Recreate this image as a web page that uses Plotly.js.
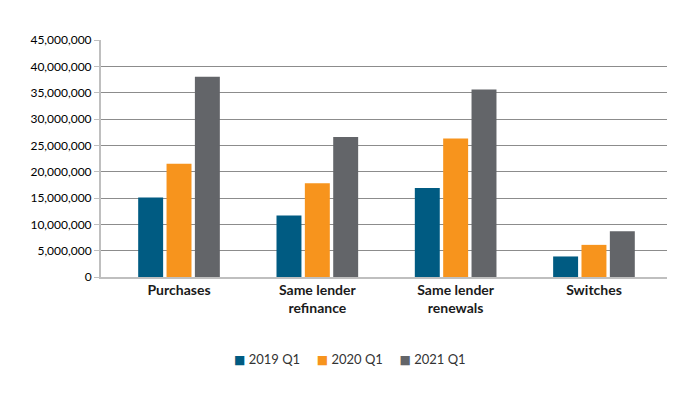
<!DOCTYPE html>
<html>
<head>
<meta charset="utf-8">
<script src="https://cdn.plot.ly/plotly-3.0.1.min.js"></script>
<style>html,body{margin:0;padding:0;background:#fff;}#chart{width:700px;height:394px;}</style>
</head>
<body>
<div id="chart"></div>
<script>
const categories = ["Purchases", "Same lender<br>refinance", "Same lender<br>renewals", "Switches"];
const seriesNames = ["2019 Q1", "2020 Q1", "2021 Q1"];
const values2019 = [15100000, 11700000, 16900000, 3900000];
const values2020 = [21500000, 17800000, 26300000, 6100000];
const values2021 = [38000000, 26600000, 35600000, 8700000];
const colors = ["#005b82", "#f7941d", "#636569"];

const allValues = [values2019, values2020, values2021];
const traces = allValues.map((v, i) => ({
  type: "bar",
  x: categories,
  y: v,
  name: seriesNames[i],
  marker: {color: colors[i]},
  showlegend: false,
  hoverinfo: "x+y"
}));

// Legend drawn as a single centered text line with coloured squares
const gap = "&nbsp;&nbsp;&nbsp;&nbsp;&nbsp;";
const legendText = seriesNames.map((n, i) =>
  `<span style="color:${colors[i]};font-family:'DejaVu Sans';font-size:12px">■</span>&nbsp;${n}`
).join(gap);

const layout = {
  width: 700, height: 394,
  margin: {l: 101, r: 33, t: 40, b: 117},
  paper_bgcolor: "#fff", plot_bgcolor: "#fff",
  font: {family: "Lato, 'Open Sans', sans-serif", color: "#222"},
  barmode: "group",
  bargap: 0.385,
  bargroupgap: 0.12,
  xaxis: {
    type: "category",
    range: [-0.564, 3.528],
    showgrid: false,
    showline: true, linecolor: "#bfbfbf", linewidth: 2,
    ticks: "",
    ticklabelstandoff: -1,
    tickfont: {size: 14, color: "#1a1a1a", family: "Lato, sans-serif", weight: 700},
    fixedrange: true
  },
  yaxis: {
    range: [0, 45000000],
    dtick: 5000000,
    tickformat: ",",
    showgrid: true, gridcolor: "#8c8c8c", gridwidth: 1,
    showline: true, linecolor: "#bfbfbf", linewidth: 2,
    ticks: "outside", ticklen: 5, tickcolor: "#bfbfbf",
    tickfont: {size: 12, color: "#000"},
    zeroline: false,
    fixedrange: true
  },
  showlegend: false,
  annotations: [{
    xref: "paper", yref: "paper",
    x: (350 - 101) / 566, y: (277 - 359) / 237,
    xanchor: "center", yanchor: "middle",
    showarrow: false,
    text: legendText,
    font: {size: 13, color: "#333", family: "Lato, sans-serif"}
  }]
};

Plotly.newPlot("chart", traces, layout, {staticPlot: true, displayModeBar: false});
</script>
</body>
</html>
